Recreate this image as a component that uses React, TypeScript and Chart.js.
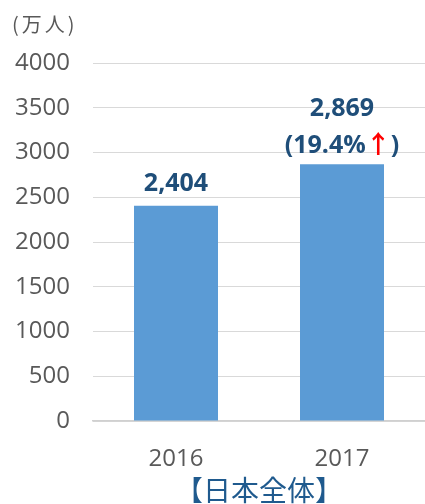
import React, { useEffect, useRef } from "react";
import { Chart, registerables } from "chart.js";

Chart.register(...registerables);

const categories: string[] = ["2016", "2017"];
const visitors: number[] = [2404, 2869];
const changeLabels: string[] = ["", "(19.4%"];
const changeArrow = "↑";
const changeClose = ")";
const yMin = 0;
const yMax = 4000;
const yStep = 500;
const unitLabel = "(万人)";
const titleText = "【日本全体】";

const NUM_FONT = "'Open Sans', 'Noto Sans CJK JP', sans-serif";
const CJK_FONT = "'Noto Sans CJK JP', sans-serif";
const LABEL_BLUE = "#1F4E79";
const GREY = "#595959";

const labelPlugin = {
  id: "barLabels",
  afterDatasetsDraw(chart: any) {
    const ctx = chart.ctx as CanvasRenderingContext2D;
    const meta = chart.getDatasetMeta(0);
    ctx.save();
    ctx.textBaseline = "middle";
    meta.data.forEach((bar: any, i: number) => {
      const x = bar.x;
      const top = bar.y;
      const valueText = visitors[i].toLocaleString("en-US");
      const change = changeLabels[i];
      ctx.font = `bold 25px ${NUM_FONT}`;
      ctx.fillStyle = LABEL_BLUE;
      ctx.textAlign = "center";
      if (change) {
        ctx.fillText(valueText, x, top - 55);
        const parts = [
          { t: change, c: LABEL_BLUE },
          { t: changeArrow, c: "#FF0000" },
          { t: changeClose, c: LABEL_BLUE },
        ];
        ctx.textAlign = "left";
        const widths = parts.map((p) => ctx.measureText(p.t).width);
        const total = widths.reduce((a, b) => a + b, 0);
        let cx = x - total / 2;
        const cy = top - 18;
        parts.forEach((p, k) => {
          ctx.fillStyle = p.c;
          ctx.fillText(p.t, cx, cy);
          cx += widths[k];
        });
      } else {
        ctx.fillText(valueText, x, top - 22);
      }
    });
    ctx.font = `20px ${CJK_FONT}`;
    ctx.fillStyle = GREY;
    ctx.textAlign = "left";
    ctx.textBaseline = "middle";
    (ctx as any).letterSpacing = "3px";
    ctx.fillText(unitLabel, 12, 24);
    ctx.restore();
  },
};

export default function App() {
  const canvasRef = useRef<HTMLCanvasElement | null>(null);

  useEffect(() => {
    if (!canvasRef.current) return;
    const chart = new Chart(canvasRef.current, {
      type: "bar",
      data: {
        labels: categories,
        datasets: [
          {
            data: visitors,
            backgroundColor: "#5B9BD5",
            borderWidth: 0,
            categoryPercentage: 1,
            barPercentage: 0.506,
          },
        ],
      },
      options: {
        animation: false,
        responsive: true,
        maintainAspectRatio: false,
        layout: { padding: { top: 63, left: 0, right: -2, bottom: 0 } },
        plugins: {
          legend: { display: false },
          tooltip: { enabled: false },
          title: {
            display: true,
            fullSize: false,
            position: "bottom",
            text: titleText,
            color: "#1F5A8E",
            font: { family: CJK_FONT, size: 28, weight: "normal", lineHeight: 1.0 },
            padding: { top: 0, bottom: 0 },
          },
        },
        scales: {
          x: {
            grid: { display: false },
            border: { display: true, color: "#d0d0d0", width: 1.5 },
            ticks: {
              color: GREY,
              font: { family: NUM_FONT, size: 24 },
              padding: 16,
            },
            afterFit: (scale: any) => {
              scale.height = 55;
            },
          },
          y: {
            min: yMin,
            max: yMax,
            grid: { color: "#d9d9d9", drawTicks: false, lineWidth: 1 },
            border: { display: false },
            ticks: {
              stepSize: yStep,
              color: GREY,
              font: { family: NUM_FONT, size: 24 },
              padding: 23,
              callback: (v: any) => String(v),
            },
            afterFit: (scale: any) => {
              scale.width = 93;
            },
          },
        },
      },
      plugins: [labelPlugin],
    });
    return () => chart.destroy();
  }, []);

  return (
    <div style={{ position: "absolute", left: 0, top: 0, width: 425, height: 504 }}>
      <canvas ref={canvasRef} />
    </div>
  );
}
